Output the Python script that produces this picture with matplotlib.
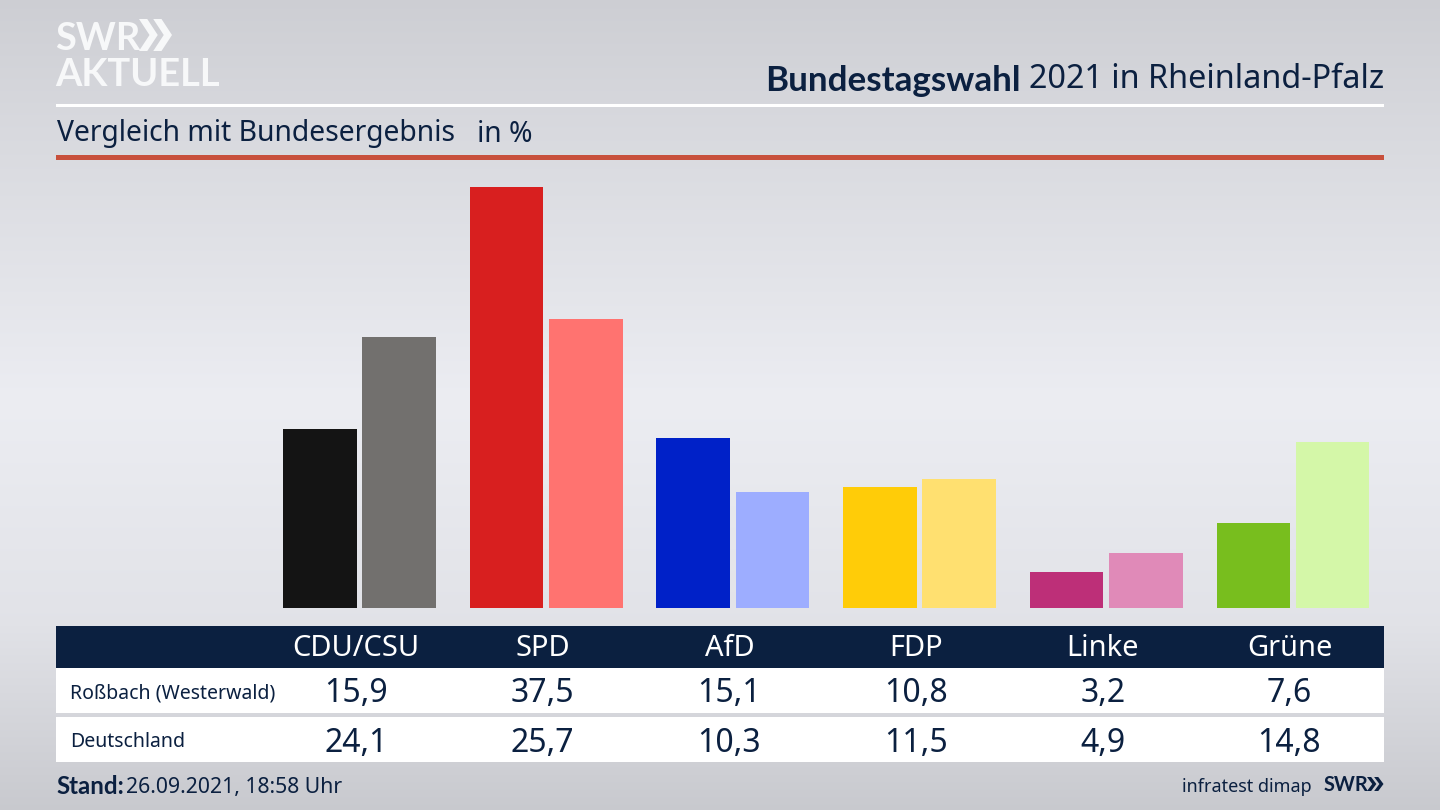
import numpy as np
import matplotlib
matplotlib.use("Agg")
import matplotlib.pyplot as plt
from matplotlib.patches import Rectangle, Polygon

plt.rcParams['font.family'] = ['Noto Sans', 'DejaVu Sans']

# Daten
parteien = ["CDU/CSU", "SPD", "AfD", "FDP", "Linke", "Grüne"]
rossbach = [15.9, 37.5, 15.1, 10.8, 3.2, 7.6]
deutschland = [24.1, 25.7, 10.3, 11.5, 4.9, 14.8]
farben_rossbach = ["#141414", "#d81f1f", "#0021c8", "#ffcc08", "#bd2f78", "#78be1e"]
farben_deutschland = ["#72706e", "#ff7370", "#9dadff", "#ffe070", "#e08ab8", "#d4f7a8"]
zeilen = ["Roßbach (Westerwald)", "Deutschland"]

DUNKEL = "#0b2040"
FETT = ["Lato", "DejaVu Sans"]
W, H = 1440, 810

fig = plt.figure(figsize=(14.4, 8.1), dpi=100)

# Hintergrund und Rahmen in Pixelkoordinaten
bg = fig.add_axes([0, 0, 1, 1])
bg.set_xlim(0, W)
bg.set_ylim(H, 0)
bg.axis("off")
verlauf = np.interp(np.arange(H), [0, 120, 400, 620, 810], [0.805, 0.845, 0.925, 0.885, 0.785])
rgb = np.stack([verlauf, verlauf + 0.004, verlauf + 0.024], axis=1)[:, None, :]
bg.imshow(np.clip(rgb, 0, 1), extent=[0, W, H, 0], aspect="auto", zorder=0)


def rect(x0, y0, x1, y1, farbe):
    bg.add_patch(Rectangle((x0, y0), x1 - x0, y1 - y0, fc=farbe, ec="none", zorder=1))


def text(x, y, s, size, farbe=DUNKEL, ha="left"):
    return bg.text(x, y + 3, s, fontsize=size * 0.72, color=farbe, ha=ha, va="center", zorder=3)


def fett(x, y, s, size, farbe=DUNKEL, ha="left"):
    return bg.text(x, y, s, fontsize=size * 0.72, color=farbe, ha=ha, va="center",
                   fontweight="bold", family=FETT, zorder=3)


def pfeile(x, y0, y1, b, farbe):
    # Doppelpfeil vom SWR Logo
    for dx in (0, b * 0.95):
        m = (y0 + y1) / 2
        bg.add_patch(Polygon([(x + dx, y0), (x + dx + b * 0.55, y0), (x + dx + b * 1.25, m),
                              (x + dx + b * 0.55, y1), (x + dx, y1), (x + dx + b * 0.7, m)],
                             fc=farbe, ec="none", zorder=3))


rect(56, 104, 1384, 107, "white")
rect(56, 155, 1384, 160, "#c8503c")

# Logo
fett(55, 39, "SWR", 38, "#f7f8f9")
pfeile(139, 19, 51, 15, "#f7f8f9")
fett(55, 75, "AKTUELL", 38, "#f7f8f9")

# Titel
fett(1021, 81, "Bundestagswahl", 35, ha="right")
text(1384, 77, "2021 in Rheinland-Pfalz", 32.4, ha="right")
text(57, 131, "Vergleich mit Bundesergebnis", 28.3)
text(477, 131, "in %", 28.3)

# Balken
abstand = 186.7
links = 359.5 - abstand / 2
oben, unten = 170, 608
ax = fig.add_axes([links / W, 1 - unten / H, abstand * 6 / W, (unten - oben) / H])
ax.patch.set_alpha(0)
x = np.arange(len(parteien))
ax.bar(x - 0.2124, rossbach, width=0.394, color=farben_rossbach)
ax.bar(x + 0.2124, deutschland, width=0.394, color=farben_deutschland)
ax.set_xlim(-0.5, 5.5)
ax.set_ylim(0, (unten - oben) / 11.227)
ax.axis("off")

# Tabelle
rect(56, 626, 1384, 668, DUNKEL)
rect(56, 668, 1384, 713, "white")
rect(56, 717, 1384, 762, "white")
spalten = 356 + abstand * x
for sx, partei, a, b in zip(spalten, parteien, rossbach, deutschland):
    text(sx, 646, partei, 29, "white", ha="center")
    text(sx, 691, f"{a:.1f}".replace(".", ","), 32, ha="center")
    text(sx, 740, f"{b:.1f}".replace(".", ","), 32, ha="center")
text(70, 690, zeilen[0], 19.5)
text(70, 739, zeilen[1], 19.5)

# Fusszeile
fett(56, 787, "Stand:", 24)
text(126, 785, "26.09.2021, 18:58 Uhr", 21.2)
text(1312, 784, "infratest dimap", 18, ha="right")
fett(1324, 785, "SWR", 20)
pfeile(1367, 777, 791, 7.5, DUNKEL)

fig.savefig("out.png", dpi=100)
